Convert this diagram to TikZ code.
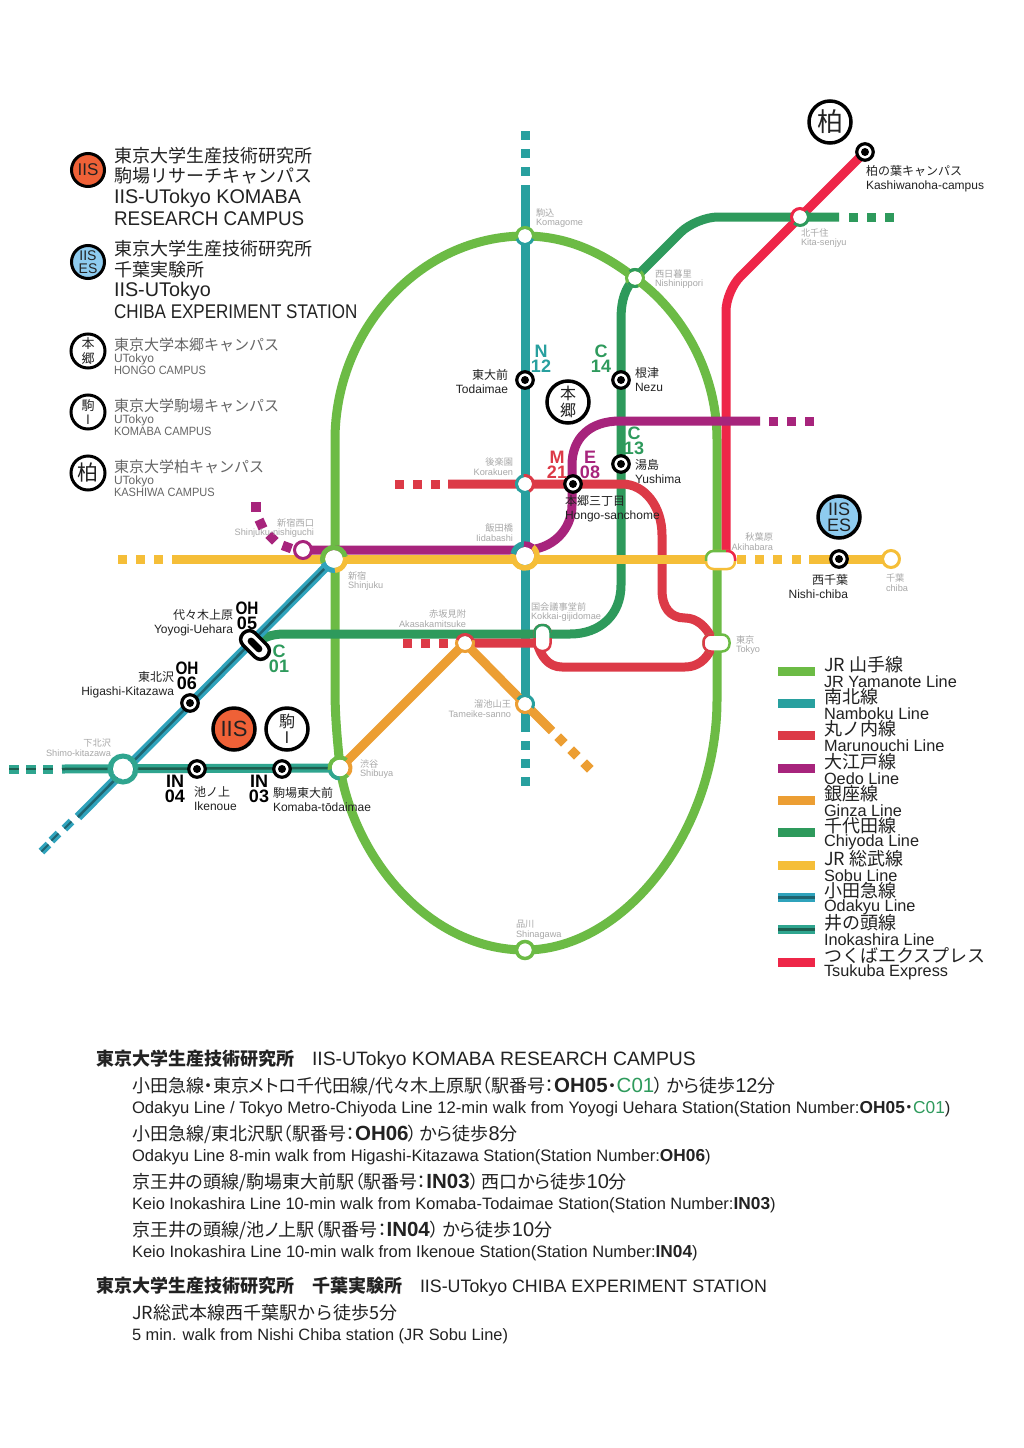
\documentclass[tikz,border=0pt]{standalone}
\usepackage{fontspec}
\setmainfont{Liberation Sans}
\newfontfamily\jp{Noto Sans CJK JP}
\newfontfamily\jpp[RawFeature=+palt]{Noto Sans CJK JP}
\definecolor{yama}{HTML}{6CBB45}
\definecolor{namb}{HTML}{28A09F}
\definecolor{maru}{HTML}{DC3A47}
\definecolor{oedo}{HTML}{A7247C}
\definecolor{ginz}{HTML}{EC9E33}
\definecolor{chiy}{HTML}{2E9A5C}
\definecolor{sobu}{HTML}{F5BE38}
\definecolor{odak}{HTML}{2FA3BC}
\definecolor{odakd}{HTML}{1F6470}
\definecolor{inok}{HTML}{2FA58F}
\definecolor{inokd}{HTML}{1E5F50}
\definecolor{tsuk}{HTML}{EE2648}
\definecolor{iis}{HTML}{EF6137}
\definecolor{iises}{HTML}{8ECBEF}
\definecolor{txt}{HTML}{222222}
\definecolor{gtxt}{HTML}{A8A8A8}
\definecolor{mtxt}{HTML}{666666}
% node, start, end, colour, radius, width
\newcommand{\ringarc}[6]{\draw[line width=#6pt,#4] ([shift={(#2:#5pt)}]#1.center) arc[start angle=#2,end angle=#3,radius=#5pt];}
\newcommand{\lb}[1]{{\normalfont\fontsize{20.5}{20}\selectfont\bfseries #1}}
\newcommand{\lr}[1]{{\normalfont\fontsize{20.5}{20}\selectfont #1}}
\newcommand{\ld}[1]{{\normalfont\fontsize{20}{20}\selectfont #1}}
\newcommand{\eb}[1]{{\fontsize{17.3}{18}\selectfont\bfseries #1}}
\tikzset{
 x=1pt,y=-1pt,
 rail/.style={line width=9pt,line join=round},
 lab/.style={inner sep=0pt,outer sep=0pt,text=txt,align=left},
 dot/.style={circle,fill=#1,draw=none,inner sep=0pt,minimum size=8pt},
 blk/.style={circle,fill=white,draw=black,line width=3.2pt,inner sep=0pt,minimum size=16.5pt},
 wn/.style={circle,fill=white,draw=none,inner sep=0pt,minimum size=#1},
 campus/.style={circle,draw=black,line width=3.5pt,fill=#1,inner sep=0pt,minimum size=42pt,text=txt},
 smallcampus/.style={circle,draw=black,line width=3pt,fill=#1,inner sep=0pt,minimum size=34pt,text=txt},
 big/.style={lab,font=\fontsize{18}{21}\selectfont},
 eng/.style={lab,font=\fontsize{19.8}{21}\selectfont},
 st/.style={lab,font=\fontsize{12}{14}\selectfont,align=right},
 gs/.style={lab,text=gtxt,font=\fontsize{9.2}{9.8}\selectfont},
 num/.style={lab,font=\fontsize{18}{15}\bfseries\selectfont,align=center},
 body/.style={lab,font=\fontsize{18}{20}\selectfont},
 bodye/.style={lab,font=\fontsize{#1}{18}\selectfont},
 legbar/.style={line width=9pt},
 sq/.style={inner sep=0pt,minimum size=9.5pt},
 stad/.style={rounded corners=7.5pt,fill=white,line width=2.5pt,inner sep=0pt},
}
\begin{document}
\begin{tikzpicture}
\useasboundingbox (0,0) rectangle (1024,1448);
\fill[white] (0,0) rectangle (1024,1448);
% stations
\coordinate (komagome) at (525,236);
\coordinate (nishinip) at (635,278);
\coordinate (kitasen) at (800,217);
\coordinate (kashiwa) at (865,152);
\coordinate (todai) at (525,380);
\coordinate (nezu) at (621,380);
\coordinate (yushima) at (621,464);
\coordinate (korakuen) at (525,484);
\coordinate (hongo) at (573,484);
\coordinate (iida) at (525,556);
\coordinate (shinjuku) at (334,559);
\coordinate (nishiguchi) at (303,550);
\coordinate (akiba) at (720.5,560);
\coordinate (nishichiba) at (839,559);
\coordinate (chiba) at (891,559);
\coordinate (kokkai) at (542.5,638);
\coordinate (tokyo) at (716.5,643);
\coordinate (akasaka) at (465,643);
\coordinate (tameike) at (525,704);
\coordinate (yoyogi) at (255,645);
\coordinate (higashi) at (190,703);
\coordinate (shimo) at (123,769);
\coordinate (ikenoue) at (197,769);
\coordinate (komaba) at (282,769);
\coordinate (shibuya) at (340,768);
\coordinate (shinagawa) at (525,950);
% Yamanote
\draw[rail,yama] (komagome) .. controls (420,236) and (335,330) .. (335,440) -- (335,690)
  .. controls (335,720) and (338,745) .. (shibuya) .. controls (355,860) and (430,950) .. (shinagawa)
  .. controls (625,950) and (717,830) .. (717,700) -- (717,440) .. controls (717,370) and (680,310) .. (nishinip)
  .. controls (605,255) and (570,236) .. (komagome);
% Tsukuba
\draw[rail,tsuk,rounded corners=20pt] (kashiwa) -- (kitasen) -- (726,291) -- (726,560);
% Namboku
\draw[rail,namb] (525,185) -- (525,732);
\foreach \y in {135,153,171,745,763,781}{\fill[namb] (520.5,\y-4.5) rectangle (529.5,\y+4.5);}
% Chiyoda
\draw[rail,chiy,rounded corners=22pt] (839,217) -- (696,217) -- (nishinip);
\draw[rail,chiy] (nishinip) .. controls (625,288) and (621,300) .. (621,320) -- (621,585) .. controls (621,615) and (600,634) .. (570,634) -- (285,634) .. controls (270,634) and (262,638) .. (yoyogi);
\foreach \x in {853,871,889}{\fill[chiy] (\x-4.5,212.5) rectangle (\x+4.5,221.5);}
% Marunouchi
\draw[rail,maru] (448,484) -- (622,484) .. controls (645,484) and (662,507) .. (662,535) -- (662,590) .. controls (662,607) and (670,618) .. (685,618) .. controls (697,618) and (706,627) .. (711,637);
\draw[rail,maru] (711,649) .. controls (706,660) and (697,667) .. (685,667) -- (562,667) .. controls (548,667) and (541,656) .. (537,643) -- (akasaka);
\foreach \x in {399,417,435}{\fill[maru] (\x-4.5,479.5) rectangle (\x+4.5,488.5);}
\foreach \x in {407,425,443}{\fill[maru] (\x-4.5,638.5) rectangle (\x+4.5,647.5);}
% Oedo
\draw[rail,oedo] (nishiguchi) -- (525,550) .. controls (552,550) and (572,530) .. (572,505) -- (572,465) .. controls (572,438) and (590,421) .. (620,421) -- (760,421);
\foreach \x in {773,791,809}{\fill[oedo] (\x-4.5,416.5) rectangle (\x+4.5,425.5);}
\node[sq,fill=oedo,rotate=-20] (o1) at (287,547) {};
\node[sq,fill=oedo,rotate=-45] (o2) at (272,538) {};
\node[sq,fill=oedo,rotate=-65] (o3) at (261,524) {};
\node[sq,fill=oedo] (o4) at (256,507) {};
% Ginza
\draw[rail,ginz] (shibuya) -- (akasaka) -- (tameike) -- (552,731);
\foreach \p in {(561,740),(574,753),(587,766)}{\node[sq,fill=ginz,rotate=45] at \p {};}
% Sobu
\draw[rail,sobu] (172,559) -- (730,559);
\draw[rail,sobu] (809,559) -- (chiba);
\foreach \x in {122,140,158,741,759,777,796}{\fill[sobu] (\x-4.5,554.5) rectangle (\x+4.5,563.5);}
% Odakyu
\draw[line width=9pt,odak] (shinjuku) -- (78,817);
\draw[line width=2.5pt,odakd] (shinjuku) -- (78,817);
\foreach \x/\y in {68/825,55/837,45/848}{
 \draw[line width=8pt,odak] (\x+3.5,\y-3.5) -- (\x-3.5,\y+3.5);
 \draw[line width=2pt,odakd] (\x+3.5,\y-3.5) -- (\x-3.5,\y+3.5);}
% Inokashira
\draw[line width=9pt,inok] (shibuya) -- (62,769);
\draw[line width=2.5pt,inokd] (shibuya) -- (62,769);
\foreach \x in {48,31,14}{
 \fill[inok] (\x-5,764.5) rectangle (\x+5,773.5);
 \draw[line width=2.5pt,inokd] (\x-5,769) -- (\x+5,769);}
% Transfer stations
\node[wn=14pt] (nKoma) at (komagome) {};
\ringarc{nKoma}{-20}{200}{yama}{8.5}{3}\ringarc{nKoma}{200}{340}{namb}{8.5}{3}
\node[wn=14pt] (nNishi) at (nishinip) {};
\ringarc{nNishi}{0}{360}{yama}{8.5}{3}\ringarc{nNishi}{50}{130}{chiy}{8.5}{3}\ringarc{nNishi}{215}{290}{chiy}{8.5}{3}
\node[wn=14pt] (nKita) at (kitasen) {};
\ringarc{nKita}{45}{225}{tsuk}{8.5}{3}\ringarc{nKita}{225}{405}{chiy}{8.5}{3}
\node[wn=14pt] (nKora) at (korakuen) {};
\ringarc{nKora}{100}{300}{namb}{8.5}{3}\ringarc{nKora}{-60}{100}{maru}{8.5}{3}
\node[wn=14pt] (nNG) at (nishiguchi) {};
\ringarc{nNG}{0}{360}{oedo}{8.5}{3}
\node[wn=14pt] (nAka) at (akasaka) {};
\ringarc{nAka}{20}{160}{maru}{8.5}{3}\ringarc{nAka}{160}{380}{ginz}{8.5}{3}
\node[wn=14pt] (nTame) at (tameike) {};
\ringarc{nTame}{-30}{150}{namb}{8.5}{3}\ringarc{nTame}{150}{330}{ginz}{8.5}{3}
\node[wn=14pt] (nChiba) at (chiba) {};
\ringarc{nChiba}{0}{360}{sobu}{8.5}{3}
\node[wn=14pt] (nShina) at (shinagawa) {};
\ringarc{nShina}{0}{360}{yama}{8.5}{3.5}
\node[wn=18pt] (nShinj) at (shinjuku) {};
\ringarc{nShinj}{10}{200}{yama}{11.5}{5}\ringarc{nShinj}{200}{275}{odak}{11.5}{5}\ringarc{nShinj}{275}{370}{sobu}{11.5}{5}
\node[wn=18pt] (nIida) at (iida) {};
\ringarc{nIida}{170}{410}{sobu}{12}{5.5}\ringarc{nIida}{95}{170}{namb}{12}{5.5}\ringarc{nIida}{50}{95}{oedo}{12}{5.5}
\node[wn=17pt] (nShib) at (shibuya) {};
\ringarc{nShib}{50}{190}{yama}{10.5}{4}\ringarc{nShib}{190}{270}{inok}{10.5}{4}\ringarc{nShib}{270}{320}{yama}{10.5}{4}\ringarc{nShib}{320}{410}{ginz}{10.5}{4}
\node[wn=20pt] (nShimo) at (shimo) {};
\ringarc{nShimo}{0}{360}{inok}{13}{5}
% Stadium stations
\node[stad,draw=sobu,minimum width=29pt,minimum height=18pt] (nAkiba) at (akiba) {};
\begin{scope}\clip (700,545) rectangle (726,560);
\node[stad,draw=yama,minimum width=29pt,minimum height=18pt] at (akiba) {};\end{scope}
\begin{scope}\clip (726,545) rectangle (742,560);
\node[stad,draw=tsuk,minimum width=29pt,minimum height=18pt] at (akiba) {};\end{scope}
\node[stad,draw=yama,minimum width=26pt,minimum height=17pt] (nTokyo) at (tokyo) {};
\begin{scope}\clip (695,625) rectangle (714,660);
\node[stad,draw=maru,minimum width=26pt,minimum height=17pt] at (tokyo) {};\end{scope}
\node[stad,draw=maru,minimum width=16pt,minimum height=26pt] (nKokkai) at (kokkai) {};
\begin{scope}\clip (530,618) rectangle (556,637);
\node[stad,draw=chiy,minimum width=16pt,minimum height=26pt] at (kokkai) {};\end{scope}
% Black stations
\foreach \n/\c in {sT/todai,sN/nezu,sY/yushima,sH/hongo,sK/kashiwa,sNC/nishichiba,sHK/higashi,sI/ikenoue,sKO/komaba}{
 \node[blk] (\n) at (\c) {};
 \node[dot=black] at (\c) {};
}
\node[draw=black,fill=white,line width=3.5pt,rounded corners=8pt,minimum width=33pt,minimum height=17pt,rotate=-45,inner sep=0pt] (sYU) at (yoyogi) {};
\node[fill=black,rounded corners=3.5pt,minimum width=18pt,minimum height=7pt,rotate=-45,inner sep=0pt] at (yoyogi) {};
% Campus markers on map
\node[campus=white] (cKashiwa) at (830,122) {\fontsize{26}{26}\jp 柏};
\node[campus=white] (cHongo) at (568,402) {\fontsize{16}{15.5}\jp\shortstack{本\\郷}};
\node[campus=iis] (cIIS) at (234,729) {\fontsize{22}{22}\selectfont IIS};
\node[campus=white] (cKoma) at (287,729) {\fontsize{16}{17}\jp\shortstack{駒\\I}};
\node[campus=iises] (cES) at (839,517) {\fontsize{18}{16}\selectfont\shortstack{IIS\\ES}};
% legend campus
\node[smallcampus=iis,minimum size=33pt] (l1) at (88,170) {\fontsize{17}{18}\selectfont IIS};
\node[smallcampus=iises,minimum size=33pt] (l2) at (88,262) {\fontsize{14}{12}\selectfont\shortstack{IIS\\ES}};
\node[smallcampus=white] (l3) at (88,351) {\fontsize{13}{12}\jp\shortstack{本\\郷}};
\node[smallcampus=white] (l4) at (88,412) {\fontsize{13}{12}\jp\shortstack{駒\\I}};
\node[smallcampus=white] (l5) at (88,473) {\fontsize{21}{21}\jp 柏};
\node[big,anchor=west] (t1) at (114,156) {\jp 東京大学生産技術研究所};
\node[big,anchor=west] (t2) at (114,176) {\jp 駒場リサーチキャンパス};
\node[eng,anchor=west] (t3) at (114,198) {IIS-UTokyo KOMABA};
\node[eng,anchor=west] (t4) at (114,219) {\scalebox{.95}[1]{RESEARCH CAMPUS}};
\node[big,anchor=west] (t5) at (114,249) {\jp 東京大学生産技術研究所};
\node[big,anchor=west] (t6) at (114,270) {\jp 千葉実験所};
\node[eng,anchor=west] (t7) at (114,291) {IIS-UTokyo};
\node[eng,anchor=west] (t8) at (114,312) {\scalebox{.86}[1]{CHIBA EXPERIMENT STATION}};
\foreach \y/\a/\b/\c in {345/東京大学本郷キャンパス/UTokyo/HONGO CAMPUS,406/東京大学駒場キャンパス/UTokyo/KOMABA CAMPUS,467/東京大学柏キャンパス/UTokyo/KASHIWA CAMPUS}{
 \node[lab,anchor=west,text=mtxt,font=\fontsize{15}{18}\jp] at (114,\y) {\a};
 \node[lab,anchor=west,text=mtxt,font=\fontsize{12}{12}\selectfont] at (114,\y+14) {\b};
 \node[lab,anchor=west,text=mtxt,font=\fontsize{12}{12}\selectfont] at (114,\y+25.5) {\scalebox{.92}[1]{\c}};
}
% black station labels
\node[st,anchor=east] at (508,381) {{\jp 東大前}\\Todaimae};
\node[st,anchor=west,align=left] at (635,380) {{\jp 根津}\\Nezu};
\node[st,anchor=west,align=left] at (635,471) {{\jp 湯島}\\Yushima};
\node[st,anchor=west,align=left] at (565,509) {{\jp 本郷三丁目}\\Hongo-sanchome};
\node[st,anchor=west,align=left] at (866,179) {{\jp 柏の葉キャンパス}\\Kashiwanoha-campus};
\node[st,anchor=east] at (848,587) {{\jp 西千葉}\\Nishi-chiba};
\node[st,anchor=east] at (233,623) {{\jp 代々木上原}\\Yoyogi-Uehara};
\node[st,anchor=east] at (174,685) {{\jp 東北沢}\\Higashi-Kitazawa};
\node[st,anchor=west,align=left] at (194,799) {{\jp 池ノ上}\\Ikenoue};
\node[st,anchor=west,align=left] at (273,799) {{\jp 駒場東大前}\\Komaba-t\={o}daimae};
% numbers
\node[num,text=namb] at (541,359) {N\\12};
\node[num,text=chiy] at (601,359) {C\\14};
\node[num,text=chiy] at (634,441) {C\\13};
\node[num,text=maru] at (557,465) {M\\21};
\node[num,text=oedo] at (590,465) {E\\08};
\node[num,text=chiy] at (279,659) {C\\01};
\node[num,text=black] at (247,616) {\scalebox{.85}[1]{OH}\\05};
\node[num,text=black] at (187,676) {\scalebox{.85}[1]{OH}\\06};
\node[num,text=black] at (175,789) {IN\\04};
\node[num,text=black] at (259,789) {IN\\03};
% grey labels
\node[gs,anchor=west,align=left] at (536,218) {{\jp 駒込}\\Komagome};
\node[gs,anchor=west,align=left] at (655,279) {{\jp 西日暮里}\\Nishinippori};
\node[gs,anchor=west,align=left] at (801,238) {{\jp 北千住}\\Kita-senjyu};
\node[gs,anchor=east,align=right] at (513,467) {{\jp 後楽園}\\Korakuen};
\node[gs,anchor=east,align=right] at (513,533) {{\jp 飯田橋}\\Iidabashi};
\node[gs,anchor=east,align=right] at (314,528) {{\jp 新宿西口}\\Shinjuku-nishiguchi};
\node[gs,anchor=west,align=left] at (348,581) {{\jp 新宿}\\Shinjuku};
\node[gs,anchor=west,align=left] at (531,612) {{\jp 国会議事堂前}\\Kokkai-gijidomae};
\node[gs,anchor=east,align=right] at (466,619) {{\jp 赤坂見附}\\Akasakamitsuke};
\node[gs,anchor=east,align=right] at (511,709) {{\jp 溜池山王}\\Tameike-sanno};
\node[gs,anchor=west,align=left] at (360,769) {{\jp 渋谷}\\Shibuya};
\node[gs,anchor=west,align=left] at (516,930) {{\jp 品川}\\Shinagawa};
\node[gs,anchor=east,align=right] at (111,748) {{\jp 下北沢}\\Shimo-kitazawa};
\node[gs,anchor=east,align=right] at (773,542) {{\jp 秋葉原}\\Akihabara};
\node[gs,anchor=west,align=left] at (886,583) {{\jp 千葉}\\chiba};
\node[gs,anchor=west,align=left] at (736,645) {{\jp 東京}\\Tokyo};
% line legend
\foreach \y/\c/\d/\a/\b in {
 671/yama/yama/JR 山手線/JR Yamanote Line,
 703/namb/namb/南北線/Namboku Line,
 735/maru/maru/丸ノ内線/Marunouchi Line,
 768/oedo/oedo/大江戸線/Oedo Line,
 800/ginz/ginz/銀座線/Ginza Line,
 832/chiy/chiy/千代田線/Chiyoda Line,
 865/sobu/sobu/JR 総武線/Sobu Line,
 897/odak/odakd/小田急線/Odakyu Line,
 929/inok/inokd/井の頭線/Inokashira Line,
 962/tsuk/tsuk/つくばエクスプレス/Tsukuba Express}{
 \draw[legbar,\c] (778,\y) -- (815,\y);
 \draw[line width=3pt,\d] (778,\y) -- (815,\y);
 \node[lab,anchor=west,font=\fontsize{18}{18}\jp] at (824,\y-6) {\a};
 \node[lab,anchor=west,font=\fontsize{16.3}{16}\selectfont] at (824,\y+10.7) {\b};
}
% bottom text
\node[body,anchor=west] at (96,1059.5) {{\jp\bfseries 東京大学生産技術研究所}\hspace{18pt}\fontsize{19.35}{20}\selectfont IIS-UTokyo KOMABA RESEARCH CAMPUS};
\node[body,anchor=west] at (132,1086) {\jpp 小田急線・東京メトロ千代田線/代々木上原駅（駅番号：\lb{OH05}・\textcolor{chiy}{\lr{C01}}）\hspace{3pt}から徒歩\ld{12}分};
\node[bodye=16.65,anchor=west] at (132,1109) {Odakyu Line / Tokyo Metro-Chiyoda Line 12-min walk from Yoyogi Uehara Station(Station Number:\eb{OH05}{\jpp ・}\textcolor{chiy}{\eb{\mdseries C01}})};
\node[body,anchor=west] at (132,1134) {\jpp 小田急線/東北沢駅（駅番号：\lb{OH06}）\hspace{2pt}から徒歩\ld{8}分};
\node[bodye=16.55,anchor=west] at (132,1157) {Odakyu Line 8-min walk from Higashi-Kitazawa Station(Station Number:\eb{OH06})};
\node[body,anchor=west] at (132,1182) {\jpp 京王井の頭線/駒場東大前駅（駅番号：\lb{IN03}）\hspace{3pt}西口から徒歩\ld{10}分};
\node[bodye=16.45,anchor=west] at (132,1205) {Keio Inokashira Line 10-min walk from Komaba-Todaimae Station(Station Number:\eb{IN03})};
\node[body,anchor=west] at (132,1230) {\jpp 京王井の頭線/池ノ上駅（駅番号：\lb{IN04}）\hspace{4pt}から徒歩\ld{10}分};
\node[bodye=16.5,anchor=west] at (132,1253) {Keio Inokashira Line 10-min walk from Ikenoue Station(Station Number:\eb{IN04})};
\node[body,anchor=west] at (96,1287) {{\jp\bfseries 東京大学生産技術研究所\hspace{18pt}千葉実験所}\hspace{18pt}\scalebox{.99}[1]{IIS-UTokyo CHIBA EXPERIMENT STATION}};
\node[body,anchor=west] at (132,1313) {\jp JR総武本線西千葉駅から徒歩5分};
\node[bodye=16.4,anchor=west] at (132,1336.5) {5 min. walk from Nishi Chiba station (JR Sobu Line)};
\end{tikzpicture}
\end{document}
